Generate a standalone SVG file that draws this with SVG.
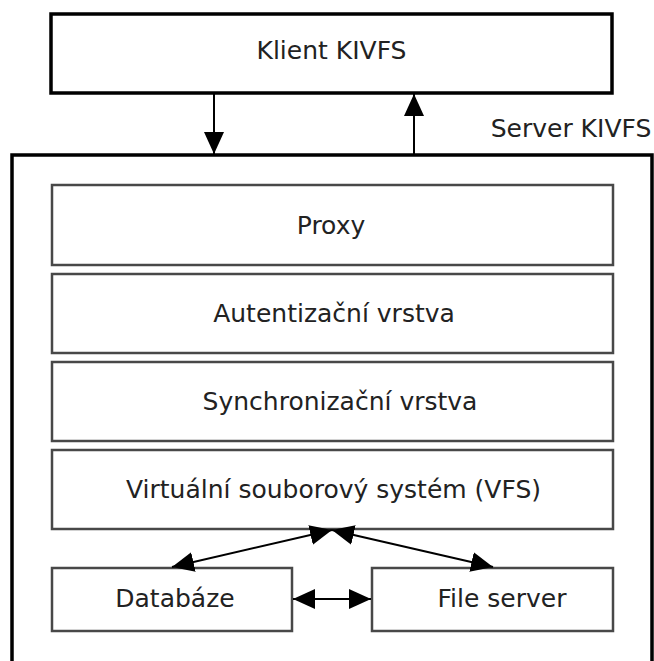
<svg xmlns="http://www.w3.org/2000/svg" width="654" height="661" viewBox="0 0 654 661">
  <style>
    text { font-family: "DejaVu Sans", "Liberation Sans", sans-serif; font-size: 25px; fill: #222; text-anchor: middle; }
    .outer { fill: none; stroke: #000; stroke-width: 3.5; }
    .box { fill: #fff; stroke: #484848; stroke-width: 2.5; }
    .link { fill: none; stroke: #000; stroke-width: 2; }
  </style>
  <defs>
    <marker id="head" viewBox="0 0 22 20" refX="22" refY="10" markerWidth="22" markerHeight="20" markerUnits="userSpaceOnUse" orient="auto-start-reverse">
      <path d="M0,0 L22,10 L0,20 z" fill="#000"/>
    </marker>
  </defs>

  <rect width="654" height="661" fill="#fff"/>

  <!-- client -->
  <g id="klient">
    <rect class="outer" x="51" y="14" width="561" height="79"/>
    <text x="331.5" y="59">Klient KIVFS</text>
  </g>

  <!-- server frame, open at the bottom -->
  <g id="server">
    <path class="outer" d="M12,680 V155 H652 V680"/>
    <text x="571" y="137">Server KIVFS</text>
  </g>

  <g id="proxy">
    <rect class="box" x="52" y="185" width="561" height="80"/>
    <text x="331" y="234">Proxy</text>
  </g>

  <g id="autentizace">
    <rect class="box" x="52" y="274" width="561" height="79"/>
    <text x="334" y="322">Autentizační vrstva</text>
  </g>

  <g id="synchronizace">
    <rect class="box" x="52" y="362" width="561" height="79"/>
    <text x="340" y="410">Synchronizační vrstva</text>
  </g>

  <g id="vfs">
    <rect class="box" x="52" y="450" width="561" height="79"/>
    <text x="333.5" y="498">Virtuální souborový systém (VFS)</text>
  </g>

  <g id="databaze">
    <rect class="box" x="52" y="568" width="240" height="63"/>
    <text x="175" y="607">Databáze</text>
  </g>

  <g id="fileserver">
    <rect class="box" x="372" y="568" width="241" height="63"/>
    <text x="502" y="607">File server</text>
  </g>

  <!-- connectors -->
  <g id="connectors">
    <line class="link" x1="214" y1="93" x2="214" y2="154" marker-end="url(#head)"/>
    <line class="link" x1="414" y1="155" x2="414" y2="94" marker-end="url(#head)"/>
    <line class="link" x1="332" y1="530" x2="172" y2="567" marker-start="url(#head)" marker-end="url(#head)"/>
    <line class="link" x1="332" y1="530" x2="493" y2="567" marker-start="url(#head)" marker-end="url(#head)"/>
    <line class="link" x1="293" y1="599" x2="371" y2="599" marker-start="url(#head)" marker-end="url(#head)"/>
  </g>
</svg>
